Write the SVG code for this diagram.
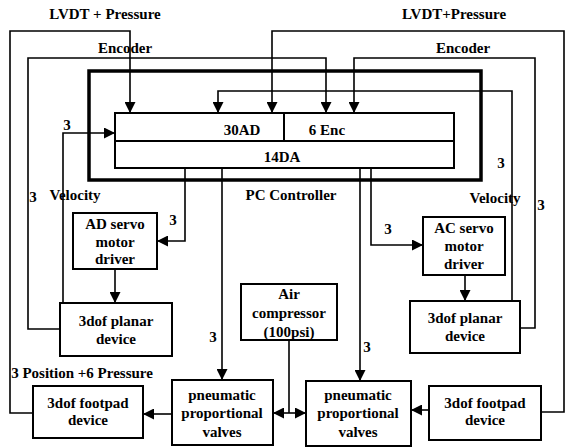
<svg xmlns="http://www.w3.org/2000/svg" width="566" height="448" viewBox="0 0 566 448">
<style>
text{font-family:"Liberation Serif","Times New Roman",serif;font-weight:bold;font-size:15px;fill:#000;text-anchor:middle}
.box{fill:#fff;stroke:#000;stroke-width:2}
.thick{fill:none;stroke:#000;stroke-width:3.5}
.c{fill:none;stroke:#000;stroke-width:1.6}
</style>
<defs>
<marker id="ah" viewBox="0 0 10 10" refX="10" refY="5" markerWidth="11" markerHeight="11" markerUnits="userSpaceOnUse" orient="auto">
<path d="M0,0 L10,5 L0,10 z" fill="#000"/>
</marker>
</defs>
<rect width="566" height="448" fill="#fff"/>

<g id="connectors">
<path class="c" d="M33,413 H10 V31 H130 V113" marker-end="url(#ah)"/>
<path class="c" d="M60,329 H28 V58 H326 V113" marker-end="url(#ah)"/>
<path class="c" d="M63,303 V133 H115" marker-end="url(#ah)"/>
<path class="c" d="M541,412 H564 V31 H272 V113" marker-end="url(#ah)"/>
<path class="c" d="M520,328 H535 V58 H354 V113" marker-end="url(#ah)"/>
<path class="c" d="M512,301 V91 H218 V113" marker-end="url(#ah)"/>
<path class="c" d="M185,168 V241 H157" marker-end="url(#ah)"/>
<path class="c" d="M222,168 V380" marker-end="url(#ah)"/>
<path class="c" d="M360,168 V381" marker-end="url(#ah)"/>
<path class="c" d="M371,168 V245 H423" marker-end="url(#ah)"/>
<path class="c" d="M115,269 V303" marker-end="url(#ah)"/>
<path class="c" d="M465,275 V301" marker-end="url(#ah)"/>
<path class="c" d="M289,340 V413"/>
<path class="c" d="M289,413 H273" marker-end="url(#ah)"/>
<path class="c" d="M289,413 H306" marker-end="url(#ah)"/>
<path class="c" d="M172,414 H143" marker-end="url(#ah)"/>
<path class="c" d="M429,410 H411" marker-end="url(#ah)"/>
</g>

<g id="labels">
<text x="105" y="19">LVDT + Pressure</text>
<text x="454" y="19">LVDT+Pressure</text>
<text x="125" y="53">Encoder</text>
<text x="463" y="53">Encoder</text>
<text x="75" y="200">Velocity</text>
<text x="495" y="203">Velocity</text>
<text x="33" y="202">3</text>
<text x="67" y="130">3</text>
<text x="501" y="168">3</text>
<text x="541" y="210">3</text>
<text x="173" y="225">3</text>
<text x="388" y="234">3</text>
<text x="213" y="342">3</text>
<text x="367" y="352">3</text>
<text x="82" y="378">3 Position +6 Pressure</text>
</g>

<g id="pc-controller">
<rect class="thick" x="89" y="71" width="392" height="109"/>
<rect class="box" x="115" y="113" width="339" height="55"/>
<line x1="115" y1="141" x2="454" y2="141" stroke="#000" stroke-width="2"/>
<line x1="284" y1="113" x2="284" y2="141" stroke="#000" stroke-width="2"/>
<text x="242" y="135">30AD</text>
<text x="327" y="135">6 Enc</text>
<text x="282" y="162">14DA</text>
<text x="291" y="200">PC Controller</text>
</g>

<g id="ad-servo">
<rect class="box" x="73" y="213" width="84" height="56"/>
<text x="115" y="229">AD servo</text>
<text x="115" y="247">motor</text>
<text x="115" y="264">driver</text>
</g>

<g id="ac-servo">
<rect class="box" x="423" y="217" width="82" height="58"/>
<text x="464" y="233">AC servo</text>
<text x="464" y="251">motor</text>
<text x="464" y="269">driver</text>
</g>

<g id="planar-left">
<rect class="box" x="60" y="303" width="112" height="53"/>
<text x="116" y="326">3dof planar</text>
<text x="116" y="344">device</text>
</g>

<g id="planar-right">
<rect class="box" x="410" y="301" width="110" height="52"/>
<text x="465" y="323">3dof planar</text>
<text x="465" y="341">device</text>
</g>

<g id="air-compressor">
<rect class="box" x="241" y="284" width="96" height="56"/>
<text x="289" y="299">Air</text>
<text x="289" y="318">compressor</text>
<text x="289" y="337">(100psi)</text>
</g>

<g id="valves-left">
<rect class="box" x="172" y="380" width="101" height="65"/>
<text x="222" y="400">pneumatic</text>
<text x="222" y="418">proportional</text>
<text x="222" y="437">valves</text>
</g>

<g id="valves-right">
<rect class="box" x="306" y="381" width="105" height="65"/>
<text x="358" y="400">pneumatic</text>
<text x="358" y="418">proportional</text>
<text x="358" y="437">valves</text>
</g>

<g id="footpad-left">
<rect class="box" x="33" y="386" width="110" height="52"/>
<text x="88" y="408">3dof footpad</text>
<text x="88" y="425">device</text>
</g>

<g id="footpad-right">
<rect class="box" x="429" y="386" width="112" height="54"/>
<text x="485" y="408">3dof footpad</text>
<text x="485" y="425">device</text>
</g>
</svg>
